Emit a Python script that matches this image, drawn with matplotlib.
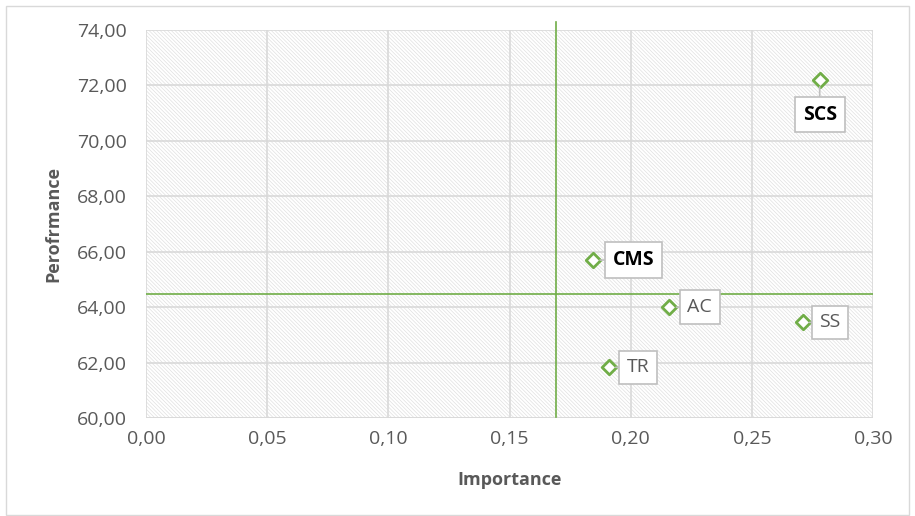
import matplotlib.pyplot as plt
from matplotlib.ticker import FuncFormatter

# data
labels = ["SCS", "CMS", "AC", "SS", "TR"]
importance = [0.278, 0.1845, 0.216, 0.271, 0.191]
performance = [72.20, 65.70, 64.00, 63.45, 61.83]
bold_labels = ["SCS", "CMS"]
# label offsets in points (dx, dy)
offsets = [(0, -25), (14, 0), (13, 0), (12, 0), (13, 0)]

mean_importance = 0.1692
mean_performance = 64.47

plt.rcParams['font.family'] = ['Open Sans', 'DejaVu Sans']
plt.rcParams['hatch.linewidth'] = 0.5

green = '#70AD47'
grey = '#595959'

fig = plt.figure(figsize=(9.15, 5.16), dpi=100)
ax = fig.add_axes([146 / 915, 1 - 418 / 516, 727 / 915, 388 / 516])

ax.set_xlim(0, 0.30)
ax.set_ylim(60, 74)
ax.set_xticks([i * 0.05 for i in range(7)])
ax.set_yticks(range(60, 75, 2))
ax.xaxis.set_major_formatter(FuncFormatter(lambda v, p: f"{v:.2f}".replace('.', ',')))
ax.yaxis.set_major_formatter(FuncFormatter(lambda v, p: f"{v:.2f}".replace('.', ',')))

# hatched background
ax.patch.set_facecolor('white')
ax.fill_between([0, 0.30], 60, 74, facecolor='white', edgecolor='#e0e0e0',
                hatch='\\' * 9, linewidth=0, zorder=0)
ax.grid(True, color='#d9d9d9', linewidth=1.2, zorder=1)
ax.set_axisbelow(True)
for s in ax.spines.values():
    s.set_visible(False)
ax.axhline(60, color='#d9d9d9', linewidth=1.2, zorder=1)
ax.tick_params(axis='both', length=0, labelsize=14, colors=grey)
ax.tick_params(axis='y', pad=14)
ax.tick_params(axis='x', pad=9)

# mean lines
ax.plot([mean_importance, mean_importance], [60.05, 74.3], color=green, lw=1.2,
        clip_on=False, zorder=2)
ax.axhline(mean_performance, color=green, lw=1.2, zorder=2)

ax.scatter(importance, performance, marker='D', s=55, facecolor='white',
           edgecolor=green, linewidth=2, zorder=4)

for lab, x, y, off in zip(labels, importance, performance, offsets):
    bold = lab in bold_labels
    ax.annotate(lab, (x, y), xytext=off, textcoords='offset points',
                ha='left' if off[0] > 0 else 'center', va='center',
                fontsize=14, fontweight='bold' if bold else 'normal',
                color='black' if bold else grey, zorder=5,
                bbox=dict(boxstyle='square,pad=0.4', fc='white', ec='#bfbfbf', lw=1.2),
                arrowprops=dict(arrowstyle='-', color='#bfbfbf', lw=1.2,
                                shrinkA=0, shrinkB=5))

ax.set_xlabel('Importance', fontsize=13, fontweight='bold', color=grey, labelpad=16)
ax.set_ylabel('Perofrmance', fontsize=13, fontweight='bold', color=grey, labelpad=10)

# outer border
fig.patches.append(plt.Rectangle((6 / 915, 0.002), 1 - 12 / 915, 1 - 7 / 516,
                                 transform=fig.transFigure, fill=False,
                                 edgecolor='#d9d9d9', lw=1))

fig.savefig('out.png', dpi=100)
